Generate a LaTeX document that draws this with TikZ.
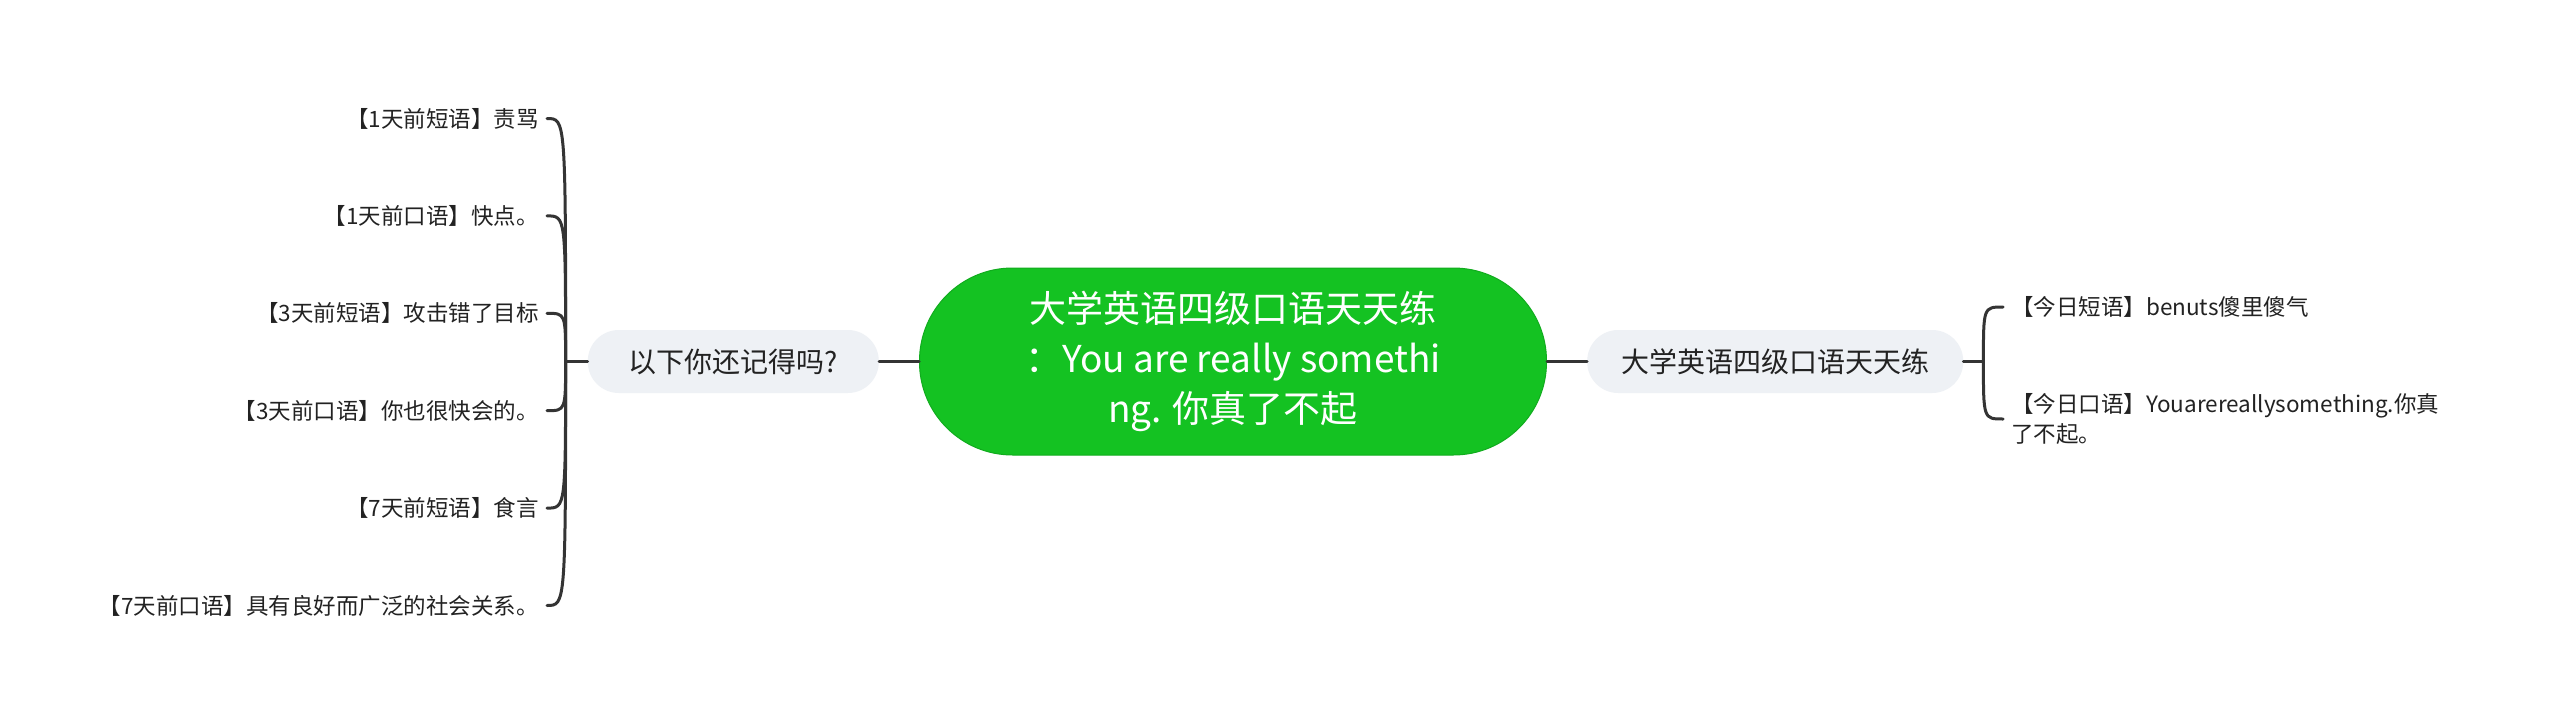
\documentclass[tikz,border=0pt]{standalone}
\usepackage{fontspec}
\setmainfont{Noto Sans CJK SC}
\usetikzlibrary{positioning}
\definecolor{topicgreen}{RGB}{20,194,34}
\definecolor{topicedge}{RGB}{17,172,30}
\definecolor{subgray}{RGB}{238,241,245}
\definecolor{linkgray}{RGB}{52,52,52}
\definecolor{textgray}{RGB}{34,34,34}

\begin{document}
\begin{tikzpicture}[x=1pt, y=-1pt, node distance=40pt,
    topic/.style={rectangle, rounded corners=93pt, fill=topicgreen, draw=topicedge, line width=1pt,
        text=white, align=center, minimum width=627pt, minimum height=187pt,
        font=\fontsize{37pt}{50pt}\selectfont},
    sub/.style={rectangle, rounded corners=31pt, fill=subgray, text=textgray, minimum height=63pt,
        font=\fontsize{28pt}{34pt}\selectfont},
    leafl/.style={anchor=east, inner xsep=8pt, inner ysep=0pt, text=textgray,
        font=\fontsize{22.5pt}{30pt}\selectfont},
    leafr/.style={leafl, anchor=west, align=left},
    link/.style={draw=linkgray, line width=3pt, line cap=round}]
    \path[fill=white, use as bounding box] (0,0) rectangle (2560,725);

    \node (main) [topic] at (1233,361.5) {大学英语四级口语天天练\\：You are really somethi\\ng. 你真了不起};
    \node (sub1) [sub, left=of main, minimum width=291pt] {以下你还记得吗?};
    \node (sub2) [sub, right=of main, minimum width=376pt] {大学英语四级口语天天练};

    \coordinate (lt) at ([xshift=-22pt]sub1.west);
    \coordinate (rt) at ([xshift=20pt]sub2.east);

    \node (L1) [leafl] at (547,118.5) {【1天前短语】责骂};
    \node (L2) [leafl] at (547,215.9) {【1天前口语】快点。};
    \node (L3) [leafl] at (547,313.3) {【3天前短语】攻击错了目标};
    \node (L4) [leafl] at (547,410.7) {【3天前口语】你也很快会的。};
    \node (L5) [leafl] at (547,508.1) {【7天前短语】食言};
    \node (L6) [leafl] at (547,605.5) {【7天前口语】具有良好而广泛的社会关系。};

    \node (R1) [leafr] at (2003,307) {【今日短语】benuts傻里傻气};
    \node (R2) [leafr] at (2003,419) {【今日口语】Youarereallysomething.你真\\了不起。};

    % links
    \draw[link] (main) -- (sub1);
    \draw[link] (main) -- (sub2);
    \draw[link] (sub1.west) -- (lt);
    \draw[link] (sub2.east) -- (rt);

    \draw[link] (lt) .. controls (lt |- L1.east) .. (L1.east);
    \draw[link] (lt) .. controls (lt |- L2.east) .. (L2.east);
    \draw[link] (lt) .. controls (lt |- L3.east) .. (L3.east);
    \draw[link] (lt) .. controls (lt |- L4.east) .. (L4.east);
    \draw[link] (lt) .. controls (lt |- L5.east) .. (L5.east);
    \draw[link] (lt) .. controls (lt |- L6.east) .. (L6.east);

    \draw[link] (rt) .. controls (rt |- R1.west) .. (R1.west);
    \draw[link] (rt) .. controls (rt |- R2.west) .. (R2.west);
\end{tikzpicture}
\end{document}
